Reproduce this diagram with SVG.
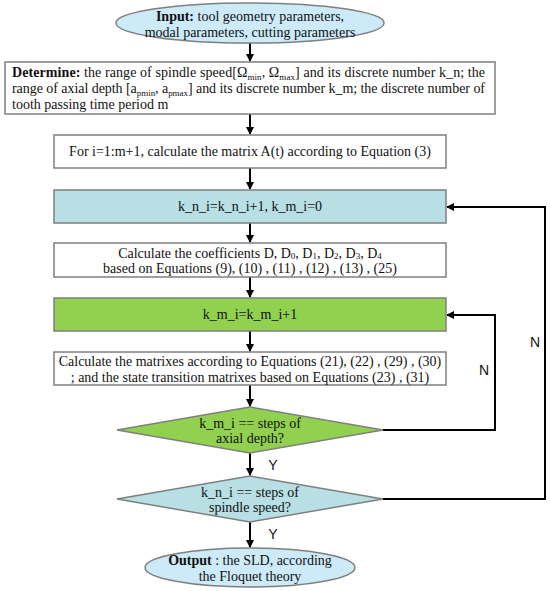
<svg xmlns="http://www.w3.org/2000/svg" width="550" height="591" viewBox="0 0 550 591">
<defs>
<marker id="ah" markerWidth="8" markerHeight="8" refX="7" refY="4" orient="auto" markerUnits="userSpaceOnUse">
<path d="M0,0 L8,4 L0,8 Z" fill="#000"/>
</marker>
<style>
.t{font-family:"Liberation Serif","Times New Roman",serif;font-size:14px;fill:#111;text-anchor:middle}
.l{font-family:"Liberation Serif","Times New Roman",serif;font-size:14px;fill:#111}
.s{font-family:"Liberation Sans",Arial,sans-serif;font-size:14px;fill:#111;text-anchor:middle}
.b{stroke:#7f7f7f;stroke-width:1.5}
.c{fill:none;stroke:#000;stroke-width:2}
.sub{font-size:9px}
</style>
</defs>
<rect width="550" height="591" fill="#fff"/>
<g id="connectors">
<line class="c" x1="250" y1="43" x2="250" y2="61" marker-end="url(#ah)"/>
<line class="c" x1="250" y1="114" x2="250" y2="134" marker-end="url(#ah)"/>
<line class="c" x1="250" y1="168" x2="250" y2="189" marker-end="url(#ah)"/>
<line class="c" x1="250" y1="223" x2="250" y2="242" marker-end="url(#ah)"/>
<line class="c" x1="250" y1="277" x2="250" y2="297" marker-end="url(#ah)"/>
<line class="c" x1="250" y1="331" x2="250" y2="351" marker-end="url(#ah)"/>
<line class="c" x1="250" y1="385" x2="250" y2="406" marker-end="url(#ah)"/>
<line class="c" x1="250" y1="453" x2="250" y2="475" marker-end="url(#ah)"/>
<line class="c" x1="250" y1="522" x2="250" y2="547" marker-end="url(#ah)"/>
<polyline class="c" points="383,430 495,430 495,315 447,315" marker-end="url(#ah)"/>
<polyline class="c" points="383,499 545,499 545,207 447,207" marker-end="url(#ah)"/>
<text class="s" x="484" y="375">N</text>
<text class="s" x="535" y="347">N</text>
<text class="s" x="273" y="470">Y</text>
<text class="s" x="273" y="539">Y</text>
</g>
<g id="input">
<rect class="b" x="116" y="3" width="268" height="40" rx="134" ry="20" fill="#cdeaf8"/>
<text class="t" x="250" y="21"><tspan font-weight="bold">Input:</tspan>  tool geometry parameters,</text>
<text class="t" x="250" y="37">modal parameters, cutting parameters</text>
</g>
<g id="determine">
<rect class="b" x="5" y="62" width="490" height="52" fill="#fff"/>
<text class="l" x="12" y="77" textLength="473" lengthAdjust="spacing"><tspan font-weight="bold">Determine:</tspan> the range of spindle speed[Ω<tspan class="sub" dy="3">min</tspan><tspan dy="-3">, Ω</tspan><tspan class="sub" dy="3">max</tspan><tspan dy="-3">] and its discrete number k_n; the</tspan></text>
<text class="l" x="12" y="93" textLength="473" lengthAdjust="spacing">range of axial depth [a<tspan class="sub" dy="3">pmin</tspan><tspan dy="-3">, a</tspan><tspan class="sub" dy="3">pmax</tspan><tspan dy="-3">] and its discrete number k_m;  the discrete number of</tspan></text>
<text class="l" x="12" y="109">tooth passing time period m</text>
</g>
<g id="for">
<rect class="b" x="54" y="135" width="392" height="33" fill="#fff"/>
<text class="t" x="250" y="156">For i=1:m+1, calculate the matrix A(t) according to Equation (3)</text>
</g>
<g id="kn">
<rect class="b" x="54" y="190" width="392" height="33" fill="#b7dfe4"/>
<text class="t" x="250" y="211">k_n_i=k_n_i+1, k_m_i=0</text>
</g>
<g id="coef">
<rect class="b" x="54" y="243" width="392" height="34" fill="#fff"/>
<text class="t" x="250" y="258">Calculate the coefficients D, D<tspan class="sub" dy="1">0</tspan><tspan dy="-1">,  D</tspan><tspan class="sub" dy="1">1</tspan><tspan dy="-1">,  D</tspan><tspan class="sub" dy="1">2</tspan><tspan dy="-1">,  D</tspan><tspan class="sub" dy="1">3</tspan><tspan dy="-1">,  D</tspan><tspan class="sub" dy="1">4</tspan></text>
<text class="t" x="250" y="273">based on  Equations (9),  (10) , (11) ,  (12) , (13) , (25)</text>
</g>
<g id="km">
<rect class="b" x="54" y="298" width="392" height="33" fill="#92d050"/>
<text class="t" x="250" y="319">k_m_i=k_m_i+1</text>
</g>
<g id="matrix">
<rect class="b" x="54" y="352" width="392" height="33" fill="#fff"/>
<text class="t" x="250" y="366">Calculate the matrixes according to Equations (21),  (22) , (29) ,  (30)</text>
<text class="t" x="250" y="382">; and the state transition matrixes based on Equations (23) , (31)</text>
</g>
<g id="dec1">
<polygon class="b" points="250,407 383,430 250,453 117,430" fill="#92d050"/>
<text class="t" x="250" y="428">k_m_i == steps of</text>
<text class="t" x="250" y="443">axial depth?</text>
</g>
<g id="dec2">
<polygon class="b" points="250,476 383,499 250,522 117,499" fill="#b7dfe4"/>
<text class="t" x="250" y="497">k_n_i == steps of</text>
<text class="t" x="250" y="512">spindle speed?</text>
</g>
<g id="output">
<rect class="b" x="145" y="548" width="210" height="39" rx="105" ry="19.5" fill="#cdeaf8"/>
<text class="t" x="250" y="565"><tspan font-weight="bold">Output</tspan> : the SLD, according</text>
<text class="t" x="250" y="581">the Floquet theory</text>
</g>
</svg>
